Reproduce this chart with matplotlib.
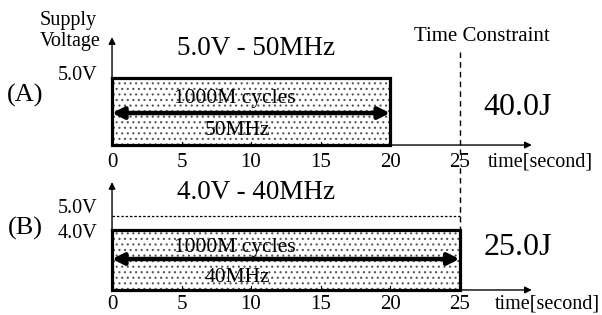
import matplotlib
matplotlib.use("Agg")
import matplotlib.pyplot as plt
from matplotlib.patches import Rectangle

plt.rcParams['font.family'] = ['Liberation Serif', 'DejaVu Serif']
plt.rcParams['hatch.linewidth'] = 0.8

# values
panels = ["(A)", "(B)"]
voltages = [5.0, 4.0]          # supply voltage used
durations = [20, 25]           # seconds to finish
freqs = ["50MHz", "40MHz"]
titles = ["5.0V - 50MHz", "4.0V - 40MHz"]
energies = ["40.0J", "25.0J"]
cycles = "1000M cycles"
max_voltage = 5.0
deadline = 25
xticks = [0, 5, 10, 15, 20, 25]

fig = plt.figure(figsize=(6.02, 3.15), dpi=100)
# axes rectangles in figure fraction and ylims picked so pixels line up
ax_top = fig.add_axes([0, 0.492, 1, 0.444])
ax_bot = fig.add_axes([0, 0.0, 1, 0.476])
ax_top.set_ylim(-1.12, 9.33)
ax_bot.set_ylim(-1.68, 8.39)

# per-panel vertical placement (top, bottom)
yaxis_top = [8.06, 7.25]
arrow_y = [2.39, 2.08]
cyc_y = [3.5, 2.82]
freq_y = [1.12, 0.87]
title_y = [7.24, 6.58]
energy_y = [2.8, 2.82]
panel_y = [3.73, 4.16]
tick_y = [-1.3, -0.95]
time_x = [27.05, 27.55]

for i, ax in enumerate([ax_top, ax_bot]):
    ax.set_xlim(-8.06, 35.25)
    ax.axis('off')
    v = voltages[i]
    d = durations[i]

    # axes arrows
    ax.annotate("", xy=(0, yaxis_top[i]), xytext=(0, 0),
                arrowprops=dict(arrowstyle='-|>', lw=1.0, color='black',
                                mutation_scale=10, shrinkA=0, shrinkB=0))
    ax.annotate("", xy=(30.2, 0), xytext=(0, 0),
                arrowprops=dict(arrowstyle='-|>', lw=1.0, color='black',
                                mutation_scale=10, shrinkA=0, shrinkB=0))

    # dotted work box
    ax.add_patch(Rectangle((0, 0), d, v, facecolor='white', edgecolor='#555555',
                           hatch='...', lw=0, zorder=2))
    ax.add_patch(Rectangle((0, 0), d, v, facecolor='none', edgecolor='black',
                           lw=2.3, zorder=4))

    # inner ticks
    for t in xticks[1:-1]:
        ax.plot([t, t], [0, 0.25], color='black', lw=0.8, zorder=3)
    for t in xticks:
        ax.text(t, tick_y[i], str(t), ha='center', va='center', fontsize=15)
    ax.text(time_x[i], tick_y[i], "time[second]", ha='left', va='center', fontsize=14.5)

    # cycles arrow + labels
    ax.annotate("", xy=(d, arrow_y[i]), xytext=(0, arrow_y[i]),
                arrowprops=dict(arrowstyle='<|-|>', lw=3.2, color='black',
                                mutation_scale=17, shrinkA=0, shrinkB=0), zorder=5)
    ax.text(8.8, cyc_y[i], cycles, ha='center', va='center', fontsize=15.5, zorder=6)
    ax.text(9.0, freq_y[i], freqs[i], ha='center', va='center', fontsize=15.5, zorder=6)

    ax.text(10.36, title_y[i], titles[i], ha='center', va='center', fontsize=19.5)
    ax.text(29.2, energy_y[i], energies[i], ha='center', va='center', fontsize=23)
    ax.text(-6.26, panel_y[i], panels[i], ha='center', va='center', fontsize=19)

# voltage labels
ax_top.text(-1.08, 5.22, "5.0V", ha='right', va='center', fontsize=14.5)
ax_top.text(-5.18, 8.5, "Supply\nVoltage", ha='left', va='center', fontsize=14.5,
            linespacing=1.15)
ax_bot.text(-1.08, 5.5, "5.0V", ha='right', va='center', fontsize=14.5)
ax_bot.text(-1.08, 3.76, "4.0V", ha='right', va='center', fontsize=14.5)
ax_bot.plot([0, deadline], [max_voltage, max_voltage], color='black', lw=0.9,
            linestyle=(0, (2, 1.5)))

# time constraint dashed line across both panels
ax_top.plot([deadline, deadline], [0, 6.94], color='black', lw=1.0,
            linestyle=(0, (4, 3)), clip_on=False)
ax_top.plot([deadline, deadline], [-0.3, -1.12], color='black', lw=1.0,
            linestyle=(0, (4, 3)), clip_on=False)
ax_bot.plot([deadline, deadline], [0, 8.39], color='black', lw=1.0,
            linestyle=(0, (4, 3)), clip_on=False)
ax_top.text(26.6, 8.13, "Time Constraint", ha='center', va='center', fontsize=15)

fig.savefig("out.png", dpi=100)
